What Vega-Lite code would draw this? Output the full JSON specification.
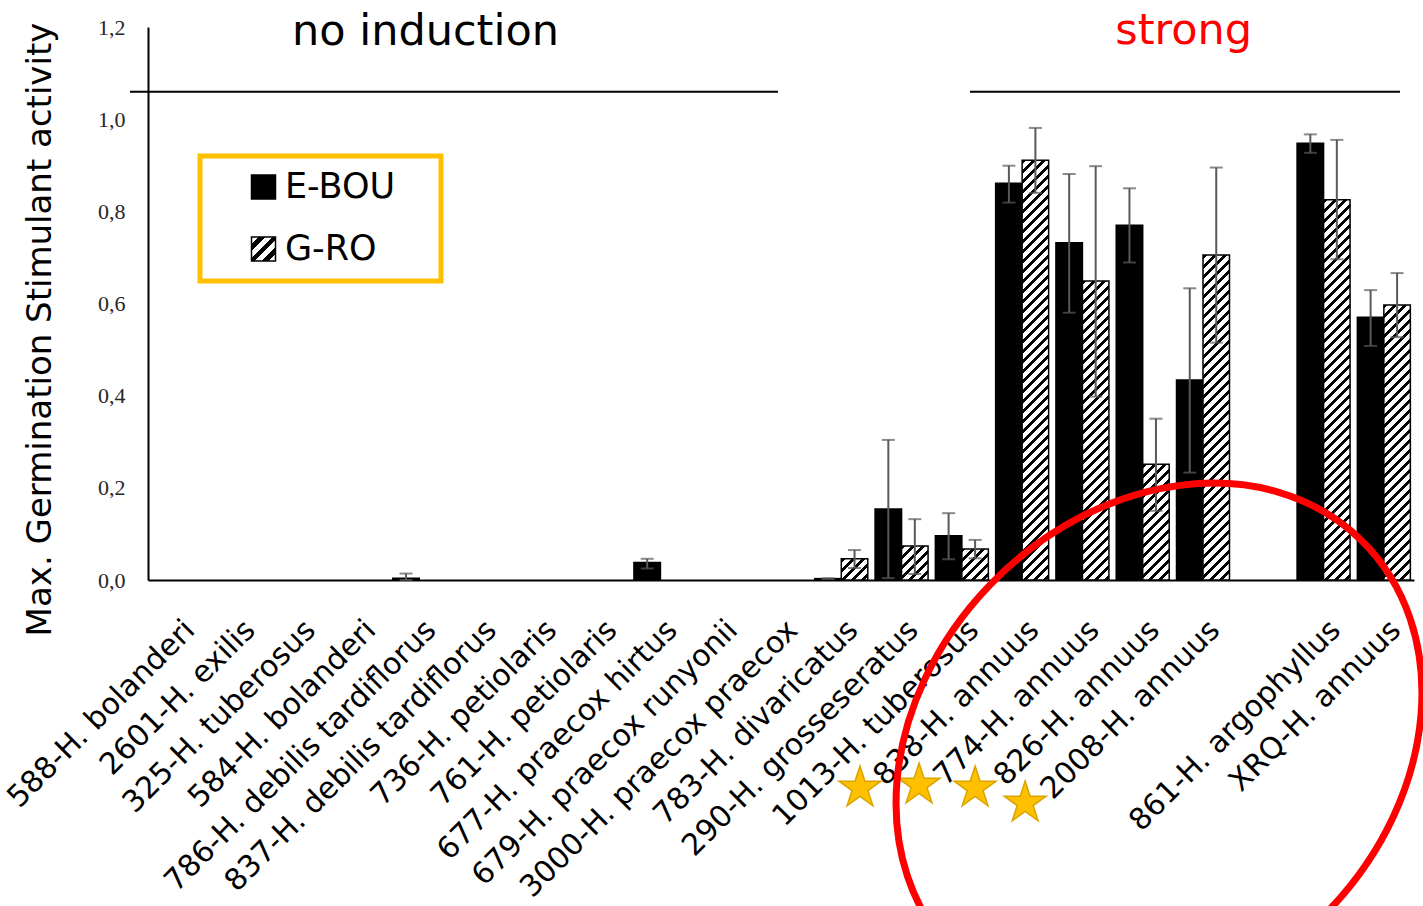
{
  "$schema": "https://vega.github.io/schema/vega-lite/v6.json",
  "width": 1266,
  "height": 553,
  "autosize": {"type": "none"},
  "padding": {"left": 148, "top": 27, "right": 9, "bottom": 326},
  "background": "white",
  "config": {
    "view": {"stroke": null},
    "axisY": {
      "ticks": false,
      "tickSize": 0,
      "grid": false,
      "domainColor": "#000",
      "domainWidth": 2,
      "labelFont": "Liberation Serif",
      "labelFontSize": 22,
      "labelColor": "#262626",
      "labelPadding": 23,
      "titleFont": "DejaVu Sans",
      "titleFontSize": 34,
      "titleFontWeight": "normal",
      "titleColor": "#000",
      "titleX": -108,
      "titleY": 302,
      "titleAlign": "center",
      "titleBaseline": "middle",
      "titleAngle": 270
    }
  },
  "datasets": {
    "bars": [
      {"cat": "786-H. debilis tardiflorus", "series": "E-BOU", "value": 0.004, "lo": 0.0, "hi": 0.014},
      {"cat": "677-H. praecox hirtus", "series": "E-BOU", "value": 0.038, "lo": 0.025, "hi": 0.046},
      {"cat": "783-H. divaricatus", "series": "E-BOU", "value": 0.003, "lo": 0.002, "hi": 0.004},
      {"cat": "783-H. divaricatus", "series": "G-RO", "value": 0.046, "lo": 0.026, "hi": 0.065},
      {"cat": "290-H. grosseseratus", "series": "E-BOU", "value": 0.154, "lo": 0.004, "hi": 0.304},
      {"cat": "290-H. grosseseratus", "series": "G-RO", "value": 0.074, "lo": 0.013, "hi": 0.132},
      {"cat": "1013-H. tuberosus", "series": "E-BOU", "value": 0.096, "lo": 0.045, "hi": 0.145},
      {"cat": "1013-H. tuberosus", "series": "G-RO", "value": 0.067, "lo": 0.047, "hi": 0.087},
      {"cat": "838-H. annuus", "series": "E-BOU", "value": 0.861, "lo": 0.819, "hi": 0.899},
      {"cat": "838-H. annuus", "series": "G-RO", "value": 0.911, "lo": 0.840, "hi": 0.981},
      {"cat": "774-H. annuus", "series": "E-BOU", "value": 0.732, "lo": 0.580, "hi": 0.881},
      {"cat": "774-H. annuus", "series": "G-RO", "value": 0.649, "lo": 0.398, "hi": 0.898},
      {"cat": "826-H. annuus", "series": "E-BOU", "value": 0.770, "lo": 0.689, "hi": 0.850},
      {"cat": "826-H. annuus", "series": "G-RO", "value": 0.251, "lo": 0.150, "hi": 0.350},
      {"cat": "2008-H. annuus", "series": "E-BOU", "value": 0.434, "lo": 0.233, "hi": 0.633},
      {"cat": "2008-H. annuus", "series": "G-RO", "value": 0.705, "lo": 0.515, "hi": 0.895},
      {"cat": "861-H. argophyllus", "series": "E-BOU", "value": 0.948, "lo": 0.927, "hi": 0.967},
      {"cat": "861-H. argophyllus", "series": "G-RO", "value": 0.825, "lo": 0.696, "hi": 0.955},
      {"cat": "XRQ-H. annuus", "series": "E-BOU", "value": 0.570, "lo": 0.508, "hi": 0.629},
      {"cat": "XRQ-H. annuus", "series": "G-RO", "value": 0.597, "lo": 0.527, "hi": 0.666}
    ],
    "lines": [
      {"x": -0.2986, "x2": 10.45, "y": 1.0596},
      {"x": 13.635, "x2": 20.768, "y": 1.0596}
    ],
    "headers": [
      {"label": "no induction", "x": 4.603, "y": 1.161},
      {"label": "strong", "x": 17.18, "y": 1.163}
    ],
    "stars": [
      {"x": 11.81, "y": -0.4514},
      {"x": 12.79, "y": -0.4449},
      {"x": 13.72, "y": -0.4514},
      {"x": 14.55, "y": -0.4839}
    ],
    "circle": [
      {"x": 16.77, "y": -0.3646}
    ],
    "legendbox": [
      {"x": 0.8626, "x2": 4.86, "y": 0.9201, "y2": 0.6488}
    ]
  },
  "layer": [
    {
      "data": {"name": "bars"},
      "encoding": {
        "x": {
          "field": "cat",
          "type": "nominal",
          "scale": {
            "domain": ["588-H. bolanderi", "2601-H. exilis", "325-H. tuberosus", "584-H. bolanderi", "786-H. debilis tardiflorus", "837-H. debilis tardiflorus", "736-H. petiolaris", "761-H. petiolaris", "677-H. praecox hirtus", "679-H. praecox runyonii", "3000-H. praecox praecox", "783-H. divaricatus", "290-H. grosseseratus", "1013-H. tuberosus", "838-H. annuus", "774-H. annuus", "826-H. annuus", "2008-H. annuus", " ", "861-H. argophyllus", "XRQ-H. annuus"],
            "paddingInner": 0.121,
            "paddingOuter": 0.0605
          },
          "axis": {
            "title": null,
            "ticks": false,
            "tickSize": 0,
            "grid": false,
            "domainColor": "#000",
            "domainWidth": 2,
            "labelAngle": -45,
            "labelAlign": "right",
            "labelBaseline": "middle",
            "labelFont": "DejaVu Sans",
            "labelFontSize": 30,
            "labelColor": "#000",
            "labelPadding": 45,
            "labelOffset": 12,
            "labelLimit": 0,
            "labelOverlap": false,
            "labelBound": false
          }
        },
        "xOffset": {
          "field": "series",
          "type": "nominal",
          "scale": {"domain": ["E-BOU", "G-RO"], "paddingInner": 0, "paddingOuter": 0}
        }
      },
      "layer": [
        {
          "mark": {
            "type": "bar",
            "strokeWidth": 1.5,
            "fill": {"expr": "datum.value === 'G-RO' ? {gradient:'linear',x1:0,y1:0,x2:1,y2:1,stops:[{offset:0,color:'#fff'},{offset:0.143,color:'#fff'},{offset:0.143,color:'#000'},{offset:0.286,color:'#000'},{offset:0.286,color:'#fff'},{offset:0.429,color:'#fff'},{offset:0.429,color:'#000'},{offset:0.571,color:'#000'},{offset:0.571,color:'#fff'},{offset:0.714,color:'#fff'},{offset:0.714,color:'#000'},{offset:0.857,color:'#000'},{offset:0.857,color:'#fff'},{offset:1,color:'#fff'}]} : datum.series === 'G-RO' ? {gradient:'linear',x1:0,y1:0,x2:500*26.5/(702.25+pow(scale('y',0)-scale('y',datum.value),2)),y2:500*(scale('y',0)-scale('y',datum.value))/(702.25+pow(scale('y',0)-scale('y',datum.value),2)),stops:[{offset:0,color:'#000'},{offset:0.008,color:'#000'},{offset:0.008,color:'#fff'},{offset:0.02,color:'#fff'},{offset:0.02,color:'#000'},{offset:0.028,color:'#000'},{offset:0.028,color:'#fff'},{offset:0.04,color:'#fff'},{offset:0.04,color:'#000'},{offset:0.048,color:'#000'},{offset:0.048,color:'#fff'},{offset:0.06,color:'#fff'},{offset:0.06,color:'#000'},{offset:0.068,color:'#000'},{offset:0.068,color:'#fff'},{offset:0.08,color:'#fff'},{offset:0.08,color:'#000'},{offset:0.088,color:'#000'},{offset:0.088,color:'#fff'},{offset:0.1,color:'#fff'},{offset:0.1,color:'#000'},{offset:0.108,color:'#000'},{offset:0.108,color:'#fff'},{offset:0.12,color:'#fff'},{offset:0.12,color:'#000'},{offset:0.128,color:'#000'},{offset:0.128,color:'#fff'},{offset:0.14,color:'#fff'},{offset:0.14,color:'#000'},{offset:0.148,color:'#000'},{offset:0.148,color:'#fff'},{offset:0.16,color:'#fff'},{offset:0.16,color:'#000'},{offset:0.168,color:'#000'},{offset:0.168,color:'#fff'},{offset:0.18,color:'#fff'},{offset:0.18,color:'#000'},{offset:0.188,color:'#000'},{offset:0.188,color:'#fff'},{offset:0.2,color:'#fff'},{offset:0.2,color:'#000'},{offset:0.208,color:'#000'},{offset:0.208,color:'#fff'},{offset:0.22,color:'#fff'},{offset:0.22,color:'#000'},{offset:0.228,color:'#000'},{offset:0.228,color:'#fff'},{offset:0.24,color:'#fff'},{offset:0.24,color:'#000'},{offset:0.248,color:'#000'},{offset:0.248,color:'#fff'},{offset:0.26,color:'#fff'},{offset:0.26,color:'#000'},{offset:0.268,color:'#000'},{offset:0.268,color:'#fff'},{offset:0.28,color:'#fff'},{offset:0.28,color:'#000'},{offset:0.288,color:'#000'},{offset:0.288,color:'#fff'},{offset:0.3,color:'#fff'},{offset:0.3,color:'#000'},{offset:0.308,color:'#000'},{offset:0.308,color:'#fff'},{offset:0.32,color:'#fff'},{offset:0.32,color:'#000'},{offset:0.328,color:'#000'},{offset:0.328,color:'#fff'},{offset:0.34,color:'#fff'},{offset:0.34,color:'#000'},{offset:0.348,color:'#000'},{offset:0.348,color:'#fff'},{offset:0.36,color:'#fff'},{offset:0.36,color:'#000'},{offset:0.368,color:'#000'},{offset:0.368,color:'#fff'},{offset:0.38,color:'#fff'},{offset:0.38,color:'#000'},{offset:0.388,color:'#000'},{offset:0.388,color:'#fff'},{offset:0.4,color:'#fff'},{offset:0.4,color:'#000'},{offset:0.408,color:'#000'},{offset:0.408,color:'#fff'},{offset:0.42,color:'#fff'},{offset:0.42,color:'#000'},{offset:0.428,color:'#000'},{offset:0.428,color:'#fff'},{offset:0.44,color:'#fff'},{offset:0.44,color:'#000'},{offset:0.448,color:'#000'},{offset:0.448,color:'#fff'},{offset:0.46,color:'#fff'},{offset:0.46,color:'#000'},{offset:0.468,color:'#000'},{offset:0.468,color:'#fff'},{offset:0.48,color:'#fff'},{offset:0.48,color:'#000'},{offset:0.488,color:'#000'},{offset:0.488,color:'#fff'},{offset:0.5,color:'#fff'},{offset:0.5,color:'#000'},{offset:0.508,color:'#000'},{offset:0.508,color:'#fff'},{offset:0.52,color:'#fff'},{offset:0.52,color:'#000'},{offset:0.528,color:'#000'},{offset:0.528,color:'#fff'},{offset:0.54,color:'#fff'},{offset:0.54,color:'#000'},{offset:0.548,color:'#000'},{offset:0.548,color:'#fff'},{offset:0.56,color:'#fff'},{offset:0.56,color:'#000'},{offset:0.568,color:'#000'},{offset:0.568,color:'#fff'},{offset:0.58,color:'#fff'},{offset:0.58,color:'#000'},{offset:0.588,color:'#000'},{offset:0.588,color:'#fff'},{offset:0.6,color:'#fff'},{offset:0.6,color:'#000'},{offset:0.608,color:'#000'},{offset:0.608,color:'#fff'},{offset:0.62,color:'#fff'},{offset:0.62,color:'#000'},{offset:0.628,color:'#000'},{offset:0.628,color:'#fff'},{offset:0.64,color:'#fff'},{offset:0.64,color:'#000'},{offset:0.648,color:'#000'},{offset:0.648,color:'#fff'},{offset:0.66,color:'#fff'},{offset:0.66,color:'#000'},{offset:0.668,color:'#000'},{offset:0.668,color:'#fff'},{offset:0.68,color:'#fff'},{offset:0.68,color:'#000'},{offset:0.688,color:'#000'},{offset:0.688,color:'#fff'},{offset:0.7,color:'#fff'},{offset:0.7,color:'#000'},{offset:0.708,color:'#000'},{offset:0.708,color:'#fff'},{offset:0.72,color:'#fff'},{offset:0.72,color:'#000'},{offset:0.728,color:'#000'},{offset:0.728,color:'#fff'},{offset:0.74,color:'#fff'},{offset:0.74,color:'#000'},{offset:0.748,color:'#000'},{offset:0.748,color:'#fff'},{offset:0.76,color:'#fff'},{offset:0.76,color:'#000'},{offset:0.768,color:'#000'},{offset:0.768,color:'#fff'},{offset:0.78,color:'#fff'},{offset:0.78,color:'#000'},{offset:0.788,color:'#000'},{offset:0.788,color:'#fff'},{offset:0.8,color:'#fff'},{offset:0.8,color:'#000'},{offset:0.808,color:'#000'},{offset:0.808,color:'#fff'},{offset:0.82,color:'#fff'},{offset:0.82,color:'#000'},{offset:0.828,color:'#000'},{offset:0.828,color:'#fff'},{offset:0.84,color:'#fff'},{offset:0.84,color:'#000'},{offset:0.848,color:'#000'},{offset:0.848,color:'#fff'},{offset:0.86,color:'#fff'},{offset:0.86,color:'#000'},{offset:0.868,color:'#000'},{offset:0.868,color:'#fff'},{offset:0.88,color:'#fff'},{offset:0.88,color:'#000'},{offset:0.888,color:'#000'},{offset:0.888,color:'#fff'},{offset:0.9,color:'#fff'},{offset:0.9,color:'#000'},{offset:0.908,color:'#000'},{offset:0.908,color:'#fff'},{offset:0.92,color:'#fff'},{offset:0.92,color:'#000'},{offset:0.928,color:'#000'},{offset:0.928,color:'#fff'},{offset:0.94,color:'#fff'},{offset:0.94,color:'#000'},{offset:0.948,color:'#000'},{offset:0.948,color:'#fff'},{offset:0.96,color:'#fff'},{offset:0.96,color:'#000'},{offset:0.968,color:'#000'},{offset:0.968,color:'#fff'},{offset:0.98,color:'#fff'},{offset:0.98,color:'#000'},{offset:0.988,color:'#000'},{offset:0.988,color:'#fff'},{offset:1,color:'#fff'}]} : '#000'"}
          },
          "encoding": {
            "y": {
              "field": "value",
              "type": "quantitative",
              "title": "Max. Germination Stimulant activity",
              "scale": {"domain": [0, 1.2], "nice": false},
              "axis": {"values": [0, 0.2, 0.4, 0.6, 0.8, 1, 1.2], "labelExpr": "replace(format(datum.value, '.1f'), '.', ',')"}
            },
            "stroke": {
              "field": "series",
              "type": "nominal",
              "scale": {"domain": ["E-BOU", "G-RO"], "range": ["#000", "#000"]},
              "legend": {
                "title": null,
                "orient": "none",
                "legendX": 52,
                "legendY": 129,
                "direction": "vertical",
                "symbolType": "square",
                "symbolSize": 576,
                "symbolStrokeWidth": 1.5,
                "symbolStrokeColor": "#000",
                "symbolOpacity": 1,
                "labelFont": "DejaVu Sans",
                "labelFontSize": 35,
                "labelColor": "#000",
                "labelOffset": 4,
                "rowPadding": 26,
                "padding": 13.5,
                "symbolOffset": 32.5
              }
            }
          }
        },
        {
          "mark": {"type": "rule", "color": "#595959", "strokeWidth": 2},
          "encoding": {
            "y": {"field": "lo", "type": "quantitative", "title": "Max. Germination Stimulant activity", "scale": {"domain": [0, 1.2], "nice": false}, "axis": {"values": [0, 0.2, 0.4, 0.6, 0.8, 1, 1.2], "labelExpr": "replace(format(datum.value, '.1f'), '.', ',')"}},
            "y2": {"field": "hi"}
          }
        },
        {
          "mark": {"type": "tick", "color": "#595959", "thickness": 2, "size": 13},
          "encoding": {
            "y": {"field": "lo", "type": "quantitative", "title": "Max. Germination Stimulant activity", "scale": {"domain": [0, 1.2], "nice": false}, "axis": {"values": [0, 0.2, 0.4, 0.6, 0.8, 1, 1.2], "labelExpr": "replace(format(datum.value, '.1f'), '.', ',')"}}
          }
        },
        {
          "mark": {"type": "tick", "color": "#595959", "thickness": 2, "size": 13},
          "encoding": {
            "y": {"field": "hi", "type": "quantitative", "title": "Max. Germination Stimulant activity", "scale": {"domain": [0, 1.2], "nice": false}, "axis": {"values": [0, 0.2, 0.4, 0.6, 0.8, 1, 1.2], "labelExpr": "replace(format(datum.value, '.1f'), '.', ',')"}}
          }
        }
      ]
    },
    {
      "layer": [
        {
          "data": {"name": "legendbox"},
          "mark": {"type": "rect", "fill": "transparent", "stroke": "#FFC000", "strokeWidth": 5},
          "encoding": {
            "x": {"field": "x", "type": "quantitative", "scale": {"domain": [0, 21], "nice": false, "zero": false}, "axis": null},
            "x2": {"field": "x2"},
            "y": {"field": "y", "type": "quantitative", "title": "Max. Germination Stimulant activity", "scale": {"domain": [0, 1.2], "nice": false}, "axis": {"values": [0, 0.2, 0.4, 0.6, 0.8, 1, 1.2], "labelExpr": "replace(format(datum.value, '.1f'), '.', ',')"}},
            "y2": {"field": "y2"}
          }
        },
        {
          "data": {"name": "lines"},
          "mark": {"type": "rule", "color": "#000", "strokeWidth": 2},
          "encoding": {
            "x": {"field": "x", "type": "quantitative", "scale": {"domain": [0, 21], "nice": false, "zero": false}, "axis": null},
            "x2": {"field": "x2"},
            "y": {"field": "y", "type": "quantitative", "title": "Max. Germination Stimulant activity", "scale": {"domain": [0, 1.2], "nice": false}, "axis": {"values": [0, 0.2, 0.4, 0.6, 0.8, 1, 1.2], "labelExpr": "replace(format(datum.value, '.1f'), '.', ',')"}}
          }
        },
        {
          "data": {"name": "headers"},
          "mark": {"type": "text", "font": "DejaVu Sans", "fontSize": 43, "align": "center", "baseline": "alphabetic"},
          "encoding": {
            "x": {"field": "x", "type": "quantitative", "scale": {"domain": [0, 21], "nice": false, "zero": false}, "axis": null},
            "y": {"field": "y", "type": "quantitative", "title": "Max. Germination Stimulant activity", "scale": {"domain": [0, 1.2], "nice": false}, "axis": {"values": [0, 0.2, 0.4, 0.6, 0.8, 1, 1.2], "labelExpr": "replace(format(datum.value, '.1f'), '.', ',')"}},
            "text": {"field": "label"},
            "color": {"condition": {"test": "datum.label === 'strong'", "value": "#FF0000"}, "value": "#000"}
          }
        },
        {
          "data": {"name": "stars"},
          "mark": {"type": "point", "shape": "M0,-1 L0.2245,-0.309 L0.9511,-0.309 L0.3633,0.118 L0.5878,0.809 L0,0.382 L-0.5878,0.809 L-0.3633,0.118 L-0.9511,-0.309 L-0.2245,-0.309 Z", "size": 1936, "filled": true, "fill": "#FFC000", "stroke": "#D9A400", "strokeWidth": 1.5, "opacity": 1},
          "encoding": {
            "x": {"field": "x", "type": "quantitative", "scale": {"domain": [0, 21], "nice": false, "zero": false}, "axis": null},
            "y": {"field": "y", "type": "quantitative", "title": "Max. Germination Stimulant activity", "scale": {"domain": [0, 1.2], "nice": false}, "axis": {"values": [0, 0.2, 0.4, 0.6, 0.8, 1, 1.2], "labelExpr": "replace(format(datum.value, '.1f'), '.', ',')"}}
          }
        },
        {
          "data": {"name": "circle"},
          "mark": {"type": "point", "shape": "M0.6947,-0.7193 C1.0165,-0.4085 0.9663,0.1654 0.5826,0.5627 C0.1989,0.96 -0.3729,1.0301 -0.6947,0.7193 C-1.0165,0.4085 -0.9663,-0.1654 -0.5826,-0.5627 C-0.1989,-0.96 0.3729,-1.0301 0.6947,-0.7193 Z", "size": 336400, "filled": false, "stroke": "#FF0000", "strokeWidth": 7, "opacity": 1},
          "encoding": {
            "x": {"field": "x", "type": "quantitative", "scale": {"domain": [0, 21], "nice": false, "zero": false}, "axis": null},
            "y": {"field": "y", "type": "quantitative", "title": "Max. Germination Stimulant activity", "scale": {"domain": [0, 1.2], "nice": false}, "axis": {"values": [0, 0.2, 0.4, 0.6, 0.8, 1, 1.2], "labelExpr": "replace(format(datum.value, '.1f'), '.', ',')"}}
          }
        }
      ]
    }
  ],
  "resolve": {"scale": {"x": "independent"}, "axis": {"x": "independent"}}
}
